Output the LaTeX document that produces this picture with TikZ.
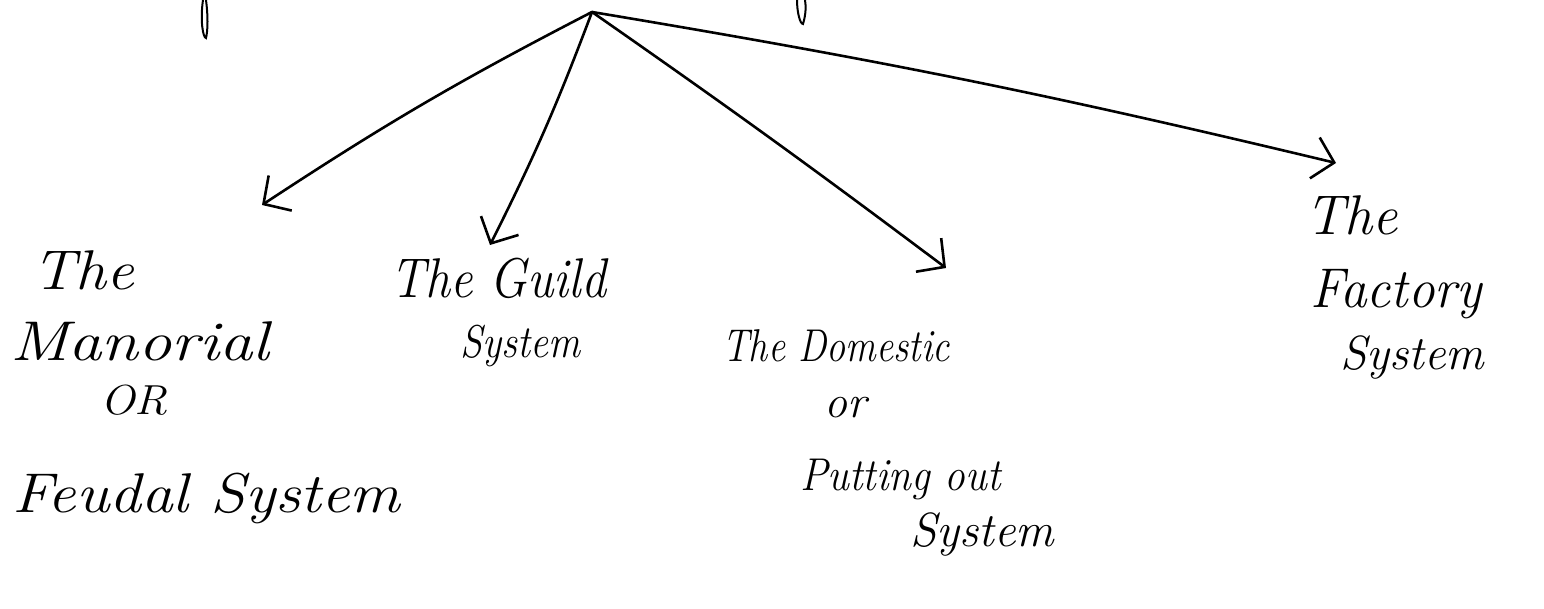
\documentclass[tikz,border=0pt]{standalone}
\usetikzlibrary{arrows.meta}
\begin{document}
\begin{tikzpicture}[x=1pt,y=-1pt,
  pen/.style={line width=2.6pt,line cap=round,line join=round},
  lbl/.style={anchor=base west,inner sep=0pt,font=\fontsize{56}{64}\selectfont\itshape},
  sml/.style={lbl,font=\fontsize{46}{54}\selectfont\itshape},
  conn/.style={pen,-{Straight Barb[length=20pt,width=42pt,line width=2.6pt]}}]
\useasboundingbox (0,0) rectangle (1544,609);
\fill[white] (0,0) rectangle (1544,609);
% cut-off fragments at the top edge
\draw[line width=2pt] (203,0) .. controls (200,20) and (203,38) .. (206,38) .. controls (208,30) and (208,15) .. (206,0);
\draw[line width=2pt] (797,0) .. controls (797,12) and (800,24) .. (803,24) .. controls (806,14) and (806,6) .. (805,0);
% root
\coordinate (root) at (592,12);
% labels
\node[lbl] (m1) at (32,290) {\scalebox{1.1}[1]{The}};
\node[lbl] (m2) at (10,360) {\scalebox{1.19}[1]{Manorial}};
\node[sml,font=\fontsize{42}{50}\selectfont\itshape] (m3) at (100,414) {\scalebox{1.1}[1]{OR}};
\node[lbl] (m4) at (12,512) {\scalebox{1.13}[1]{Feudal System}};
\node[lbl] (g1) at (390,298) {\scalebox{0.89}[1]{The Guild}};
\node[sml] (g2) at (460,358) {\scalebox{0.87}[1]{System}};
\node[sml] (d1) at (722,362) {\scalebox{0.83}[1]{The Domestic}};
\node[sml] (d2) at (824,417) {or};
\node[sml] (d3) at (800,490) {\scalebox{0.9}[1]{Putting out}};
\node[sml,font=\fontsize{48}{56}\selectfont\itshape] (d4) at (910,546) {System};
\node[lbl] (f1) at (1305,235) {The};
\node[lbl] (f2) at (1310,308) {\scalebox{0.95}[1]{Factory}};
\node[sml,font=\fontsize{48}{56}\selectfont\itshape] (f3) at (1340,370) {System};
% arrow tips
\coordinate (tm) at (262,205);
\coordinate (tg) at (490,245);
\coordinate (td) at (946,268);
\coordinate (tf) at (1336,163);
\draw[conn] (root) to[bend right=3] (tm);
\draw[conn] (root) to[bend left=3] (tg);
\draw[conn] (root) to[bend left=1] (td);
\draw[conn] (root) to[bend left=2] (tf);
\end{tikzpicture}
\end{document}
